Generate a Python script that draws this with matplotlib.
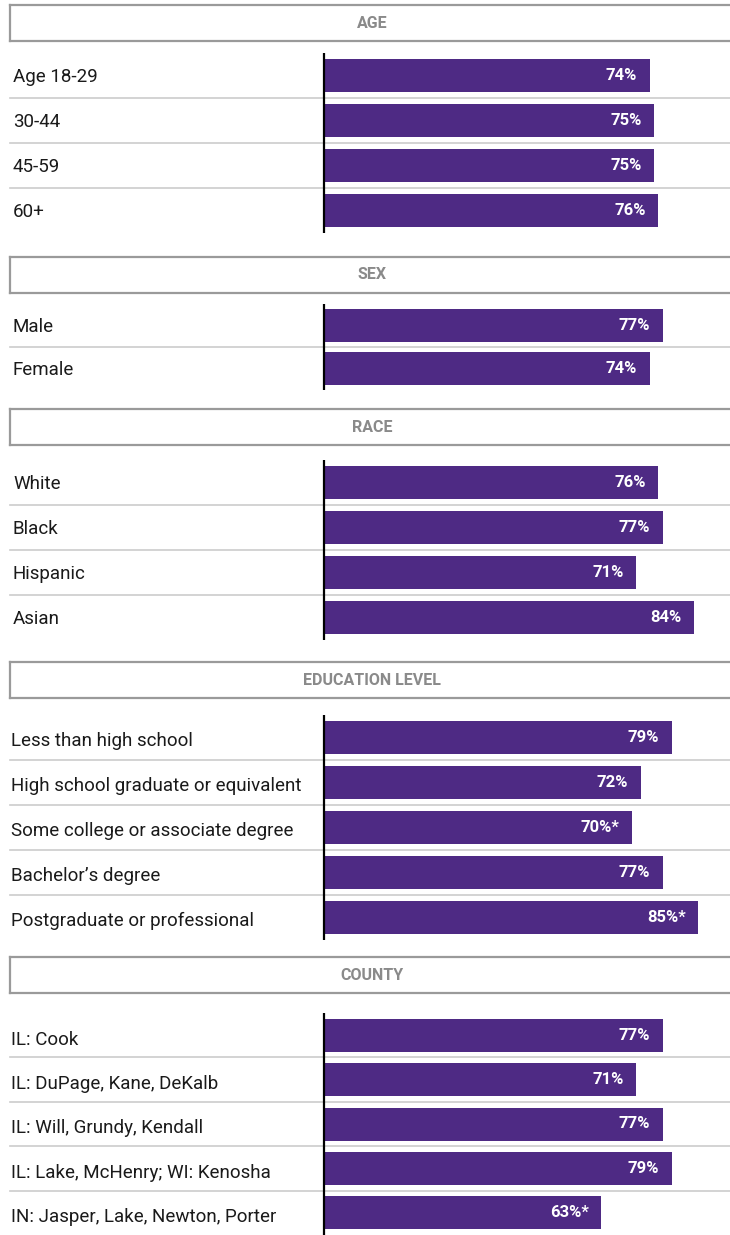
import matplotlib.pyplot as plt

plt.rcParams['font.family'] = ['Roboto', 'DejaVu Sans']

# ---- data ----
section_titles = ["AGE", "SEX", "RACE", "EDUCATION LEVEL", "COUNTY"]

age_labels = ["Age 18-29", "30-44", "45-59", "60+"]
age_values = [74, 75, 75, 76]
age_flags = [False, False, False, False]

sex_labels = ["Male", "Female"]
sex_values = [77, 74]
sex_flags = [False, False]

race_labels = ["White", "Black", "Hispanic", "Asian"]
race_values = [76, 77, 71, 84]
race_flags = [False, False, False, False]

edu_labels = ["Less than high school", "High school graduate or equivalent",
              "Some college or associate degree", "Bachelor\u2019s degree",
              "Postgraduate or professional"]
edu_values = [79, 72, 70, 77, 85]
edu_flags = [False, False, True, False, True]

county_labels = ["IL: Cook", "IL: DuPage, Kane, DeKalb", "IL: Will, Grundy, Kendall",
                 "IL: Lake, McHenry; WI: Kenosha", "IN: Jasper, Lake, Newton, Porter"]
county_values = [77, 71, 77, 79, 63]
county_flags = [False, False, False, False, True]

sections = [
    (age_labels, age_values, age_flags),
    (sex_labels, sex_values, sex_flags),
    (race_labels, race_values, race_flags),
    (edu_labels, edu_values, edu_flags),
    (county_labels, county_values, county_flags),
]

# ---- layout (pixels) ----
W, H = 730, 1235
header_tops = [5, 257, 409, 662, 957]
header_h = 36
axis_tops = [53, 304, 460, 715, 1013]
pitches = [45, 43, 45, 45, 44.4]
label_x = [13, 13, 13, 11, 11]
label_dy = [0.03, 0.04, 0.03, 0.08, 0.1]   # labels sit a bit lower in the last sections
zero_x = 324
px_per_pct = 4.4

PURPLE = "#4e2a84"

fig = plt.figure(figsize=(W / 100, H / 100), dpi=100)


def fx(px):
    return px / W


def fy(py):
    return 1 - py / H


for k, (title, (labels, values, flags)) in enumerate(zip(section_titles, sections)):
    htop, atop, pitch = header_tops[k], axis_tops[k], pitches[k]

    # header box
    hax = fig.add_axes([fx(10), fy(htop + header_h), fx(W), header_h / H])
    hax.set_xticks([])
    hax.set_yticks([])
    for sp in hax.spines.values():
        sp.set_color("#9a9a9a")
        sp.set_linewidth(1.6)
    hax.text((372 - 10) / W, 0.5, title, transform=hax.transAxes,
             ha="center", va="center", fontsize=11.5, fontweight="bold",
             color="#8a8a8a")

    # bars
    n = len(labels)
    ax = fig.add_axes([0, fy(atop + n * pitch), 1, n * pitch / H])
    ax.set_xlim(-zero_x / px_per_pct, (W - zero_x) / px_per_pct)
    ax.set_ylim(n - 0.5, -0.5)
    ax.axis("off")

    ypos = list(range(n))
    ax.barh(ypos, values, height=33 / pitch, color=PURPLE, zorder=2)
    for i in range(n - 1):
        ax.axhline(i + 0.5, xmin=10 / W, xmax=1, color="#cccccc", lw=1.2, zorder=1)
    ax.axvline(0, color="black", lw=1.6, zorder=3)

    for y, lab, v, fl in zip(ypos, labels, values, flags):
        ax.text(label_x[k] / W, y + label_dy[k], lab, transform=ax.get_yaxis_transform(),
                ha="left", va="center", fontsize=13.5, color="#1a1a1a")
        txt = f"{v}%" + ("*" if fl else "")
        ax.annotate(txt, (v, y), xytext=(-9, 0), textcoords="offset points",
                    ha="right", va="center", fontsize=12, fontweight="bold",
                    color="white", zorder=4)

fig.savefig("out.png", dpi=100)
